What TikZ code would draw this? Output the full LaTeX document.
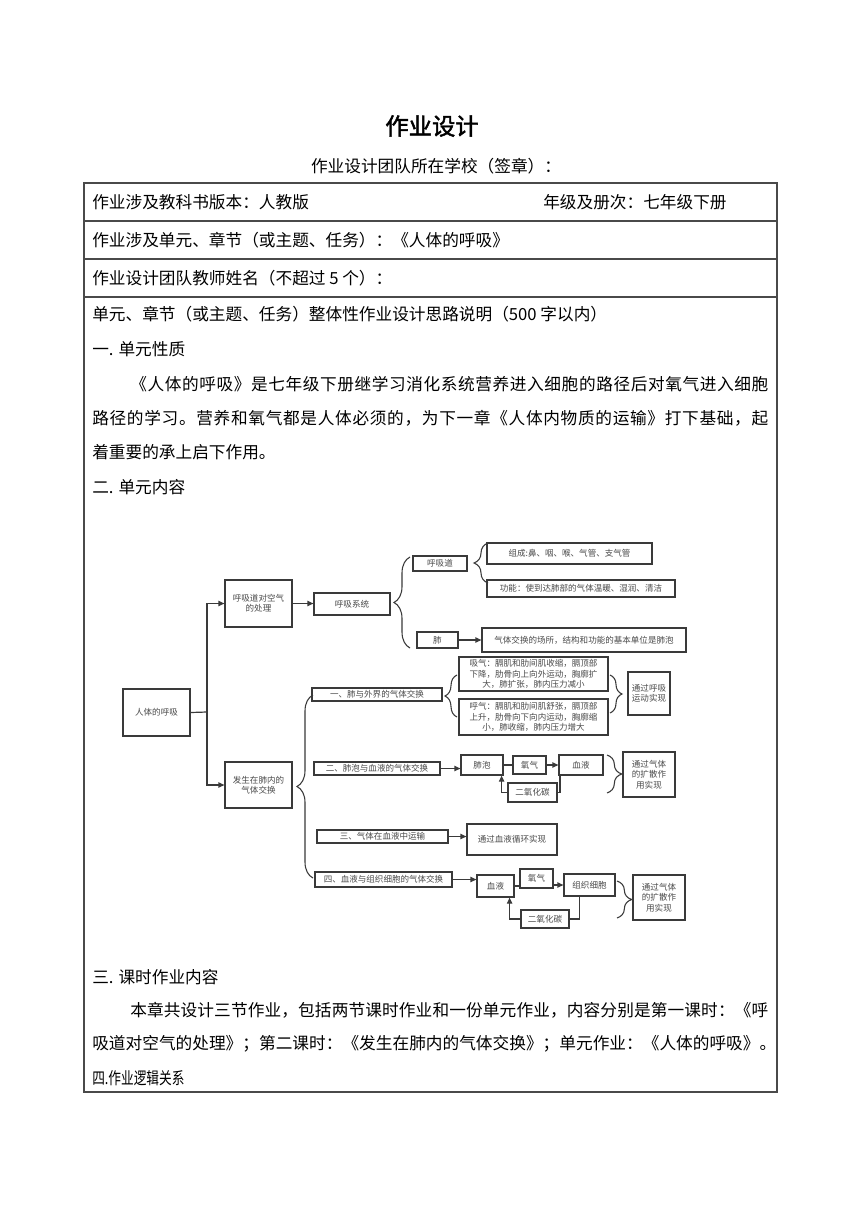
\documentclass[tikz,border=0pt]{standalone}
\usepackage{fontspec}
\usepackage{graphicx}
\usetikzlibrary{arrows.meta,decorations.pathreplacing,calc}
\newfontfamily\cjk{Noto Sans CJK SC}
\newfontfamily\cjkbold[FakeBold=2]{Noto Sans CJK SC}
\def\sprA#1{#1\sprB}
\def\sprB#1{\ifx#1\relax\else\hskip0pt plus 1fil #1\expandafter\sprB\fi}
\newcommand\just[2]{\hbox to #1{\sprA #2\relax}}
\definecolor{tline}{HTML}{4A4A4A}
\definecolor{dline}{HTML}{3A3A3A}
\definecolor{dtext}{HTML}{4A4A4A}
\tikzset{
 txt/.style={anchor=west, inner sep=0pt, font=\cjk\fontsize{12.5}{15}\selectfont},
 dbox/.style={draw=dline, line width=0.9pt, inner sep=0pt, align=center, text=dtext, font=\cjk\fontsize{6.4}{7.8}\selectfont},
 dl/.style={draw=dline, line width=0.9pt},
 arr/.style={dl, -{Triangle[length=4.5pt,width=4pt]}},
 brc/.style={draw=dline, line width=0.8pt, decorate},
 tl/.style={draw=tline, line width=0.8pt}
}
\newcommand\bx[6]{\node[dbox, minimum width={(#4-#2)*0.75pt}, minimum height={(#5-#3)*0.75pt}] (#1) at ({(#2+#4)/2},{(#3+#5)/2}) {#6};}
\begin{document}
\begin{tikzpicture}[x=0.75pt, y=-0.75pt]
\fill[white] (0,0) rectangle (860,1216);
\useasboundingbox (0,0) rectangle (860,1216);

% title
\node[inner sep=0pt, font=\cjkbold\fontsize{17.5}{20}\selectfont] (title) at (432,126) {作业设计};
\node[inner sep=0pt, font=\cjk\fontsize{12.5}{15}\selectfont] (sub) at (436,166) {作业设计团队所在学校（签章）：};

% table
\draw[tl] (84,183) rectangle (777,1092);
\draw[tl] (84,221) -- (777,221);
\draw[tl] (84,259) -- (777,259);
\draw[tl] (84,297) -- (777,297);

\node[txt] (r1a) at (92,202) {作业涉及教科书版本：人教版};
\node[txt] (r1b) at (543,202) {年级及册次：七年级下册};
\node[txt] (r2) at (92,240) {作业涉及单元、章节（或主题、任务）：《人体的呼吸》};
\node[txt] (r3) at (92,278) {作业设计团队教师姓名（不超过 5 个）：};
\node[txt] (h0) at (92,314) {单元、章节（或主题、任务）整体性作业设计思路说明（500 字以内）};
\node[txt] (h1) at (92,349) {一. 单元性质};
\node[txt] (p1a) at (130,384) {\just{478.5pt}{《人体的呼吸》是七年级下册继学习消化系统营养进入细胞的路径后对氧气进入细胞}};
\node[txt] (p1b) at (92,418) {\just{507pt}{路径的学习。营养和氧气都是人体必须的，为下一章《人体内物质的运输》打下基础，起}};
\node[txt] (p1c) at (92,452) {着重要的承上启下作用。};
\node[txt] (h2) at (92,487) {二. 单元内容};
\node[txt] (h3) at (92,977) {三. 课时作业内容};
\node[txt] (p2a) at (130,1010) {\just{478.5pt}{本章共设计三节作业，包括两节课时作业和一份单元作业，内容分别是第一课时：《呼}};
\node[txt] (p2b) at (92,1044) {\just{513pt}{吸道对空气的处理》；第二课时：《发生在肺内的气体交换》；单元作业：《人体的呼吸》。}};
\node[txt] (h4) at (92,1078) {\scalebox{0.76}[1]{四.作业逻辑关系}};

% diagram boxes
\bx{root}{123}{689}{190}{736}{人体的呼吸}
\bx{a1}{225}{580}{292}{627}{呼吸道对空气\\的处理}
\bx{a2}{225}{762}{292}{808}{发生在肺内的\\气体交换}
\bx{hx}{314}{593}{390}{615}{呼吸系统}
\bx{hxd}{413}{556}{467}{571}{呼吸道}
\bx{zc}{487}{543}{652}{564}{组成:鼻、咽、喉、气管、支气管}
\bx{gn}{487}{580}{675}{597}{功能：使到达肺部的气体温暖、湿润、清洁}
\bx{fei}{417}{632}{458}{648}{肺}
\bx{fei2}{482}{628}{686}{652}{气体交换的场所，结构和功能的基本单位是肺泡}
\bx{b1}{312}{688}{442}{701}{一、肺与外界的气体交换}
\bx{xq}{459}{657}{608}{691}{吸气：膈肌和肋间肌收缩，膈顶部\\下降，肋骨向上向外运动，胸廓扩\\大，肺扩张，肺内压力减小}
\bx{hq}{459}{699}{608}{735}{呼气：膈肌和肋间肌舒张，膈顶部\\上升，肋骨向下向内运动，胸廓缩\\小，肺收缩，肺内压力增大}
\bx{yd}{628}{672}{670}{715}{通过呼吸\\运动实现}
\bx{b2}{314}{762}{440}{775}{二、肺泡与血液的气体交换}
\bx{fp}{461}{755}{503}{775}{肺泡}
\bx{yq1}{513}{756}{546}{774}{氧气}
\bx{xy1}{559}{755}{603}{775}{血液}
\bx{co1}{508}{783}{557}{802}{二氧化碳}
\bx{ks1}{623}{752}{675}{797}{通过气体\\的扩散作\\用实现}
\bx{b3}{317}{830}{448}{843}{三、气体在血液中运输}
\bx{xh}{467}{824}{557}{855}{通过血液循环实现}
\bx{b4}{315}{872}{452}{887}{四、血液与组织细胞的气体交换}
\bx{xy2}{477}{875}{514}{897}{血液}
\bx{yq2}{520}{869}{553}{888}{氧气}
\bx{zz}{564}{874}{615}{896}{组织细胞}
\bx{co2}{521}{910}{569}{928}{二氧化碳}
\bx{ks2}{633}{875}{685}{920}{通过气体\\的扩散作\\用实现}

% connectors
\coordinate (j) at (207,712);
\draw[dl] (root.east) -- (j);
\draw[arr] (j) |- (a1.west);
\draw[arr] (j) |- (a2.west);
\draw[arr] (a1.east) -- (a1.east -| hx.west);
\draw[arr] (fei.east) -- (fei.east -| fei2.west);
\draw[arr] (b2.east) -- (b2.east -| fp.west);
\draw[dl] (fp.east) -- (fp.east -| yq1.west);
\draw[arr] (yq1.east) -- (yq1.east -| xy1.west);
\draw[dl] (co1.east) -| ($(xy1.south west)+(1.5,0)$);
\draw[arr] (co1.west) -| ($(fp.south east)+(-2,0)$);
\draw[arr] (b3.east) -- (b3.east -| xh.west);
\draw[arr] (b4.east) -- (b4.east -| xy2.west);
\draw[dl] (xy2.east) -- (xy2.east -| yq2.west);
\draw[arr] (zz.west -| yq2.east) -- (zz.west);
\draw[dl] ($(zz.south)+(-10,0)$) |- (co2.east);
\draw[arr] (co2.west) -| ($(xy2.south east)+(-5,0)$);

% braces
\coordinate (br1s) at (410,648); \coordinate (br1e) at (410,557);
\draw[brc, decoration={brace,amplitude=12pt}] (br1s) -- (br1e);
\coordinate (br2s) at (488,583); \coordinate (br2e) at (488,543);
\draw[brc, decoration={brace,amplitude=10.5pt}] (br2s) -- (br2e);
\coordinate (br3s) at (313,878); \coordinate (br3e) at (313,695);
\draw[brc, decoration={brace,amplitude=12pt}] (br3s) -- (br3e);
\coordinate (br4s) at (457,717); \coordinate (br4e) at (457,675);
\draw[brc, decoration={brace,amplitude=9pt}] (br4s) -- (br4e);
\coordinate (br5s) at (610,675); \coordinate (br5e) at (610,713);
\draw[brc, decoration={brace,amplitude=9pt}] (br5s) -- (br5e);
\coordinate (br6s) at (607,755); \coordinate (br6e) at (607,793);
\draw[brc, decoration={brace,amplitude=11pt}] (br6s) -- (br6e);
\coordinate (br7s) at (617,881); \coordinate (br7e) at (617,918);
\draw[brc, decoration={brace,amplitude=11pt}] (br7s) -- (br7e);
\end{tikzpicture}
\end{document}
